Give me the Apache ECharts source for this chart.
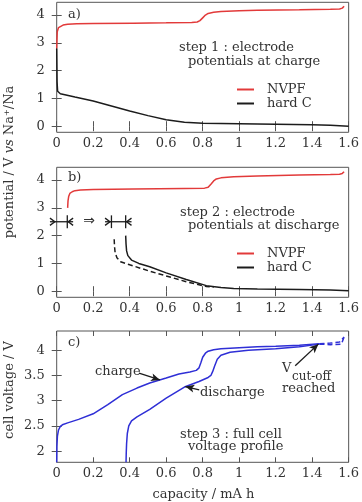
<!DOCTYPE html>
<html><head><meta charset="utf-8">
<script src="https://cdn.jsdelivr.net/npm/echarts@6/dist/echarts.min.js"></script>
<style>html,body{margin:0;padding:0;background:#fff}#c{width:362px;height:502px}</style>
</head><body><div id="c"></div>
<script>
// ---- data ----
const xTicks = [0, 0.2, 0.4, 0.6, 0.8, 1, 1.2, 1.4, 1.6];
const yTicksAB = [0, 1, 2, 3, 4];
const yTicksC = [2, 2.5, 3, 3.5, 4];

// panel a
const aNvpfX = [0, 0.003, 0.01, 0.02, 0.035, 0.06, 0.11, 0.2, 0.42, 0.6, 0.74, 0.77, 0.785, 0.8, 0.815, 0.83, 0.86, 0.9, 1.0, 1.1, 1.33, 1.5, 1.55, 1.565, 1.575];
const aNvpfY = [2.8, 3.4, 3.55, 3.6, 3.64, 3.67, 3.69, 3.7, 3.71, 3.72, 3.73, 3.75, 3.8, 3.9, 4.0, 4.06, 4.1, 4.13, 4.16, 4.17, 4.19, 4.21, 4.22, 4.25, 4.32];
const aHardX = [0, 0.002, 0.005, 0.02, 0.1, 0.2, 0.3, 0.4, 0.5, 0.6, 0.7, 0.8, 0.9, 1.0, 1.2, 1.4, 1.5, 1.6];
const aHardY = [2.8, 1.6, 1.26, 1.17, 1.05, 0.91, 0.73, 0.55, 0.38, 0.23, 0.14, 0.11, 0.1, 0.09, 0.07, 0.05, 0.03, 0.0];

// panel b
const bNvpfX = [0.06, 0.062, 0.066, 0.072, 0.085, 0.1, 0.13, 0.2, 0.42, 0.7, 0.81, 0.83, 0.845, 0.86, 0.875, 0.9, 0.97, 1.1, 1.33, 1.5, 1.55, 1.565, 1.575];
const bNvpfY = [3.0, 3.25, 3.42, 3.52, 3.58, 3.62, 3.64, 3.66, 3.68, 3.7, 3.71, 3.74, 3.85, 3.97, 4.04, 4.08, 4.12, 4.15, 4.18, 4.2, 4.21, 4.24, 4.3];
const bHardX = [0.378, 0.38, 0.383, 0.39, 0.41, 0.45, 0.51, 0.6, 0.71, 0.82, 0.9, 0.97, 1.1, 1.33, 1.5, 1.6];
const bHardY = [2.0, 1.7, 1.45, 1.28, 1.12, 1.0, 0.88, 0.66, 0.42, 0.2, 0.13, 0.1, 0.08, 0.06, 0.04, 0.02];
const bShiftX = [0.315, 0.317, 0.32, 0.33, 0.35, 0.4, 0.51, 0.6, 0.71, 0.82, 0.86];
const bShiftY = [1.87, 1.6, 1.4, 1.2, 1.06, 0.95, 0.72, 0.55, 0.34, 0.17, 0.14];

// panel c
const cChgX = [0, 0.001, 0.004, 0.01, 0.02, 0.035, 0.06, 0.12, 0.2, 0.28, 0.36, 0.44, 0.51, 0.6, 0.67, 0.73, 0.765, 0.78, 0.79, 0.8, 0.815, 0.83, 0.86, 0.9, 1.0, 1.1, 1.2, 1.33, 1.44];
const cChgY = [1.78, 2.1, 2.3, 2.42, 2.49, 2.53, 2.56, 2.63, 2.74, 2.92, 3.12, 3.25, 3.35, 3.45, 3.53, 3.57, 3.6, 3.65, 3.75, 3.86, 3.94, 3.98, 4.01, 4.03, 4.05, 4.07, 4.08, 4.1, 4.13];
const cDisX = [0.38, 0.381, 0.383, 0.387, 0.395, 0.41, 0.44, 0.51, 0.6, 0.7, 0.78, 0.83, 0.845, 0.855, 0.865, 0.88, 0.9, 0.95, 1.05, 1.2, 1.33, 1.44];
const cDisY = [1.78, 1.95, 2.15, 2.35, 2.5, 2.6, 2.68, 2.83, 3.05, 3.27, 3.38, 3.46, 3.5, 3.58, 3.68, 3.82, 3.9, 3.96, 4.0, 4.03, 4.07, 4.12];
const cExtUpX = [1.44, 1.5, 1.55, 1.575];
const cExtUpY = [4.13, 4.14, 4.16, 4.26];
const cExtLoX = [1.44, 1.5, 1.56, 1.575];
const cExtLoY = [4.12, 4.11, 4.12, 4.26];

// annotation arrows (data coords) [x1,y1,x2,y2]
const arrowCharge = [0.451, 3.545, 0.566, 3.41];
const arrowDischarge = [0.781, 3.214, 0.705, 3.28];
const arrowCutoff = [1.307, 3.69, 1.434, 4.12];
// shift markers in panel b: [xLeft, xRight, yLevel], vertical bars
const marker1 = [-0.037, 0.09, 2.5]; const marker1Bars = [0.058];
const marker2 = [0.265, 0.41, 2.5]; const marker2Bars = [0.30, 0.378];
const shiftArrowPos = [0.177, 2.5];

// ---- chart ----
const FONT = 'DejaVu Serif';
const FRAME = '#555';
const RED = '#e23a3a', BLACK = '#1c1c1c', BLUE = '#2f2fd6';
const zip = (xs, ys) => xs.map((x, i) => [x, ys[i]]);

const L = 56.7, W = 292.6;
const grids = [
  {left: L, top: 2.3, width: W, height: 130},
  {left: L, top: 167.3, width: W, height: 130},
  {left: L, top: 331, width: W, height: 131.3}
].map(g => Object.assign(g, {show: true, borderColor: FRAME, borderWidth: 1, backgroundColor: 'transparent'}));

const tickStyle = {lineStyle: {color: FRAME, width: 1}};
const labelStyle = {color: '#333', fontFamily: FONT, fontSize: 13};
const xAxes = [], yAxes = [];
[0, 1, 2].forEach(g => {
  xAxes.push({type: 'value', gridIndex: g, min: 0, max: 1.6, interval: 0.2, position: 'bottom',
    axisLine: {show: false}, splitLine: {show: false},
    axisTick: Object.assign({show: true, inside: true, length: 5}, tickStyle),
    axisLabel: Object.assign({show: true, margin: 5}, labelStyle)});
  xAxes.push({type: 'value', gridIndex: g, min: 0, max: 1.6, interval: 0.2, position: 'top',
    axisLine: {show: false}, splitLine: {show: false},
    axisTick: Object.assign({show: true, inside: true, length: 5}, tickStyle),
    axisLabel: {show: false}});
  const isC = g === 2;
  const mn = isC ? 1.78 : -0.22, mx = isC ? 4.38 : 4.46;
  const vals = isC ? yTicksC : yTicksAB;
  yAxes.push({type: 'value', gridIndex: g, min: mn, max: mx, position: 'left',
    axisLine: {show: false}, splitLine: {show: false},
    axisTick: Object.assign({show: true, inside: true, length: 5, customValues: vals}, tickStyle),
    axisLabel: Object.assign({show: true, margin: 12, customValues: vals}, labelStyle)});
  yAxes.push({type: 'value', gridIndex: g, min: mn, max: mx, position: 'right',
    axisLine: {show: false}, splitLine: {show: false},
    axisTick: Object.assign({show: true, inside: true, length: 5, customValues: vals}, tickStyle),
    axisLabel: {show: false}});
});

function line(name, g, data, color, dashed, extra) {
  return Object.assign({
    type: 'line', name: name, xAxisIndex: g * 2, yAxisIndex: g * 2, data: data,
    showSymbol: false, symbol: 'none', smooth: false, animation: false, silent: true,
    lineStyle: {color: color, width: 1.5, type: dashed ? [5, 3] : 'solid'},
    itemStyle: {color: color}
  }, extra || {});
}
function seg(x1, y1, x2, y2, color, endSym) {
  return [{coord: [x1, y1], symbol: 'none', lineStyle: {color: color, width: 1.3, type: 'solid'}},
          {coord: [x2, y2], symbol: endSym || 'none', symbolSize: [6, 9]}];
}
const ml = (data) => ({markLine: {silent: true, animation: false, symbol: 'none', label: {show: false}, data: data}});

const series = [
  line('NVPF', 0, zip(aNvpfX, aNvpfY), RED),
  line('hard C', 0, zip(aHardX, aHardY), BLACK),
  line('NVPF', 1, zip(bNvpfX, bNvpfY), RED),
  line('hard C', 1, zip(bHardX, bHardY), BLACK),
  line('hard C shifted', 1, zip(bShiftX, bShiftY), BLACK, true),
  line('charge', 2, zip(cChgX, cChgY), BLUE, false, ml([
    seg(...arrowCharge, BLACK, 'arrow'),
    seg(...arrowDischarge, BLACK, 'arrow'),
    seg(...arrowCutoff, BLACK, 'arrow')])),
  line('discharge', 2, zip(cDisX, cDisY), BLUE),
  line('ext up', 2, zip(cExtUpX, cExtUpY), BLUE, true),
  line('ext lo', 2, zip(cExtLoX, cExtLoY), BLUE, true)
];

const legendBase = {orient: 'vertical', left: 232, itemWidth: 17, itemHeight: 2, itemGap: 1,
  icon: 'rect', data: ['NVPF', 'hard C'], selectedMode: false,
  textStyle: {fontFamily: FONT, fontSize: 13, color: '#333', padding: [0, 0, 0, 8]}};
const legends = [
  Object.assign({top: 78}, legendBase),
  Object.assign({top: 242}, legendBase)
];

function txt(text, x, y, opts) {
  return Object.assign({type: 'text', x: x, y: y, silent: true,
    style: Object.assign({text: text, fill: '#333', font: '13px "' + FONT + '"', align: 'left', verticalAlign: 'middle'}, (opts && opts.style) || {})},
    opts && opts.rotation ? {rotation: opts.rotation} : {});
}
const graphics = [
  txt('a)', 68, 15), txt('b)', 68, 178), txt('c)', 68, 343),
  txt('step 1 : electrode', 179, 47.7), txt('potentials at charge', 188, 61.7),
  txt('step 2 : electrode', 180, 212.3), txt('potentials at discharge', 188, 226),
  txt('step 3 : full cell', 180, 435), txt('voltage profile', 188, 447),
  txt('charge', 95, 372), txt('discharge', 200, 393),
  txt('V', 282, 369), txt('cut-off', 292, 377, {style: {font: '12px "' + FONT + '"'}}), txt('reached', 282, 389),
  txt('capacity / mA h', 203.5, 495, {style: {align: 'center'}}),
  txt('cell voltage / V', 9.5, 390, {rotation: Math.PI / 2, style: {align: 'center'}}),
  {type: 'text', x: 10, y: 162, rotation: Math.PI / 2, silent: true,
    style: {text: '{n|potential / V }{i|vs}{n| Na⁺/Na}', align: 'center', verticalAlign: 'middle',
      rich: {n: {fontFamily: FONT, fontSize: 13, fill: '#333', color: '#333'},
             i: {fontFamily: FONT, fontSize: 13, fontStyle: 'italic', fill: '#333', color: '#333'}}}}
];

const chart = echarts.init(document.getElementById('c'), null, {renderer: 'canvas'});
chart.setOption({
  animation: false,
  backgroundColor: '#fff',
  grid: grids, xAxis: xAxes, yAxis: yAxes,
  legend: legends, series: series, graphic: graphics
});

// shift markers of panel b, placed through the grid's scales (not clipped)
const px = (x, y) => chart.convertToPixel({gridIndex: 1}, [x, y]);
function markerGraphics(m, bars) {
  const [xl, xr, y] = m, hx = 0.027, hy = 0.13, by = 0.23;
  const st = {stroke: BLACK, lineWidth: 1.3, fill: null};
  const pl = (pts) => ({type: 'polyline', silent: true, shape: {points: pts.map(p => px(p[0], p[1]))}, style: st});
  const out = [pl([[xl, y], [xr, y]])];
  bars.forEach(b => out.push(pl([[b, y - by], [b, y + by]])));
  out.push(pl([[xl, y + hy], [xl + hx, y], [xl, y - hy]]));
  out.push(pl([[xr, y + hy], [xr - hx, y], [xr, y - hy]]));
  return out;
}
const ap = px(shiftArrowPos[0], shiftArrowPos[1]);
chart.setOption({graphic: graphics.concat(
  markerGraphics(marker1, marker1Bars),
  markerGraphics(marker2, marker2Bars),
  [{type: 'text', x: ap[0], y: ap[1], silent: true,
    style: {text: '⇒', fill: '#333', font: '14px "DejaVu Sans"', align: 'center', verticalAlign: 'middle'}}]
)});
</script></body></html>
